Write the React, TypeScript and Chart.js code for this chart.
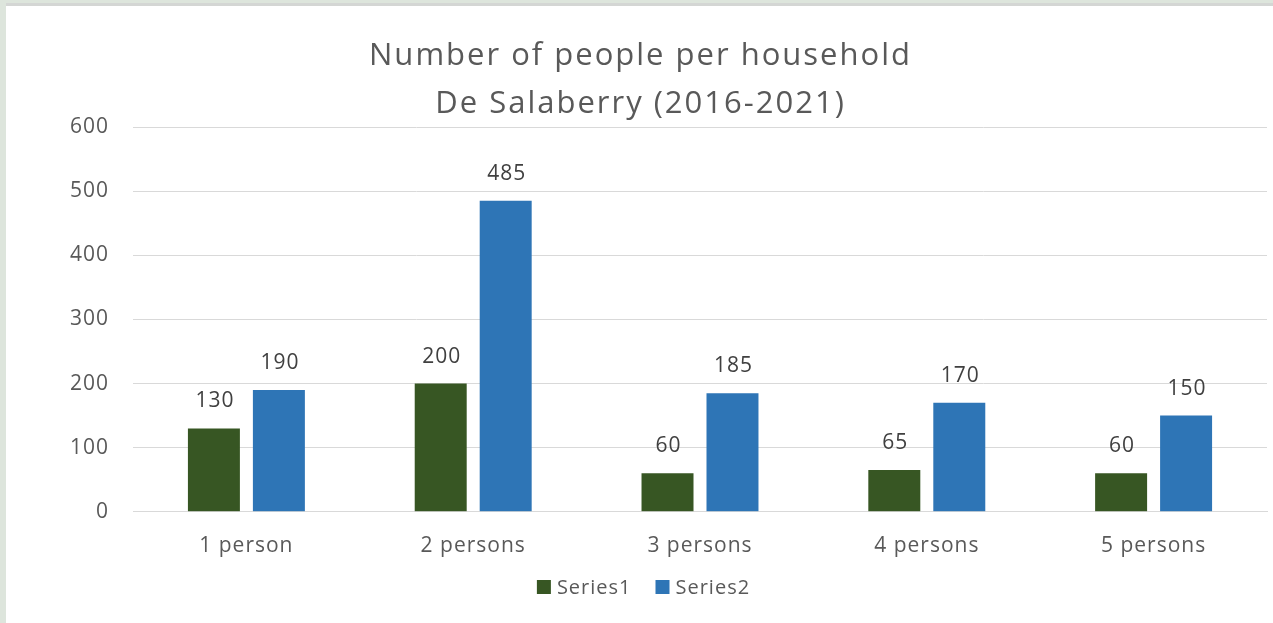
import React, { useEffect, useRef } from "react";
import { Chart, registerables } from "chart.js";

Chart.register(...registerables);

const categories = ["1 person", "2 persons", "3 persons", "4 persons", "5 persons"];
const series1 = [130, 200, 60, 65, 60];
const series2 = [190, 485, 185, 170, 150];
const yTicks = [0, 100, 200, 300, 400, 500, 600];
const titleLines = ["Number of people per household", "De Salaberry (2016-2021)"];
const seriesNames = ["Series1", "Series2"];
const seriesColors = ["#375623", "#2E75B6"];

const FONT = "'Open Sans', sans-serif";
const TEXT = "#595959";

const spacingPlugin = {
  id: "letterSpacing",
  beforeUpdate(chart: any) {
    chart.ctx.letterSpacing = "1px";
  },
  beforeDraw(chart: any) {
    chart.ctx.letterSpacing = "1px";
  },
};

const titlePlugin = {
  id: "customTitle",
  afterDraw(chart: any) {
    const ctx = chart.ctx;
    ctx.save();
    ctx.letterSpacing = "2px";
    ctx.font = `31px ${FONT}`;
    ctx.fillStyle = TEXT;
    ctx.textAlign = "center";
    ctx.textBaseline = "middle";
    const cx = chart.width / 2 + 1;
    titleLines.forEach((t, i) => ctx.fillText(t, cx, 49 + i * 48));
    ctx.restore();
  },
};

const legendPlugin = {
  id: "customLegend",
  afterDraw(chart: any) {
    const ctx = chart.ctx;
    ctx.save();
    ctx.letterSpacing = "1px";
    ctx.font = `20px ${FONT}`;
    ctx.textBaseline = "middle";
    ctx.textAlign = "left";
    const box = 14;
    const gap = 6;
    const between = 24;
    const items = chart.data.datasets.map((ds: any) => ({
      label: ds.label,
      color: ds.backgroundColor,
      w: ctx.measureText(ds.label).width,
    }));
    const total = items.reduce((s: number, it: any) => s + box + gap + it.w, 0) + between * (items.length - 1);
    let x = chart.width / 2 + 4 - total / 2;
    const y = 580;
    items.forEach((it: any) => {
      ctx.fillStyle = it.color;
      ctx.fillRect(x, y - box / 2, box, box);
      ctx.fillStyle = TEXT;
      ctx.fillText(it.label, x + box + gap, y + 1);
      x += box + gap + it.w + between;
    });
    ctx.restore();
  },
};

const labelPlugin = {
  id: "barValueLabels",
  afterDatasetsDraw(chart: any) {
    const ctx = chart.ctx;
    ctx.save();
    ctx.letterSpacing = "1px";
    ctx.font = `21px ${FONT}`;
    ctx.fillStyle = "#404040";
    ctx.textAlign = "center";
    ctx.textBaseline = "middle";
    chart.data.datasets.forEach((ds: any, i: number) => {
      const meta = chart.getDatasetMeta(i);
      meta.data.forEach((bar: any, j: number) => {
        ctx.fillText(String(ds.data[j]), bar.x + 1, bar.y - 27);
      });
    });
    ctx.restore();
  },
};

export default function App() {
  const ref = useRef<HTMLCanvasElement | null>(null);
  useEffect(() => {
    if (!ref.current) return;
    const chart = new Chart(ref.current, {
      type: "bar",
      data: {
        labels: categories,
        datasets: [
          { label: seriesNames[0], data: series1, backgroundColor: seriesColors[0], categoryPercentage: 0.573, barPercentage: 0.8 },
          { label: seriesNames[1], data: series2, backgroundColor: seriesColors[1], categoryPercentage: 0.573, barPercentage: 0.8 },
        ],
      },
      options: {
        animation: false,
        responsive: false,
        maintainAspectRatio: false,
        layout: { padding: { left: 0, right: 6, top: 120, bottom: 50 } },
        plugins: {
          tooltip: { enabled: false },
          title: { display: false },
          legend: { display: false },
        },
        scales: {
          x: {
            grid: { display: false },
            border: { display: true, color: "#d9d9d9" },
            ticks: { color: TEXT, font: { family: FONT, size: 21 }, padding: 14 },
          },
          y: {
            min: 0,
            max: 600,
            afterBuildTicks: (scale: any) => {
              scale.ticks = yTicks.map((v) => ({ value: v }));
            },
            afterFit: (scale: any) => {
              scale.width = 127;
            },
            grid: { color: "#d9d9d9", drawTicks: false },
            border: { display: false },
            ticks: { color: TEXT, font: { family: FONT, size: 21 }, padding: 24 },
          },
        },
      },
      plugins: [spacingPlugin, labelPlugin, titlePlugin, legendPlugin],
    });
    return () => chart.destroy();
  }, []);
  return (
    <div style={{ position: "absolute", left: 0, top: 0, width: 1273, height: 623, background: "#dde5dc", overflow: "hidden" }}>
      <div style={{ position: "absolute", left: 6, top: 3, right: 0, height: 3, background: "#d4d6d4" }} />
      <div style={{ position: "absolute", left: 6, top: 6, right: 0, bottom: 0, background: "#ffffff" }} />
      <canvas ref={ref} width={1267} height={616} style={{ position: "absolute", left: 6, top: 7, width: 1267, height: 616 }} />
    </div>
  );
}
